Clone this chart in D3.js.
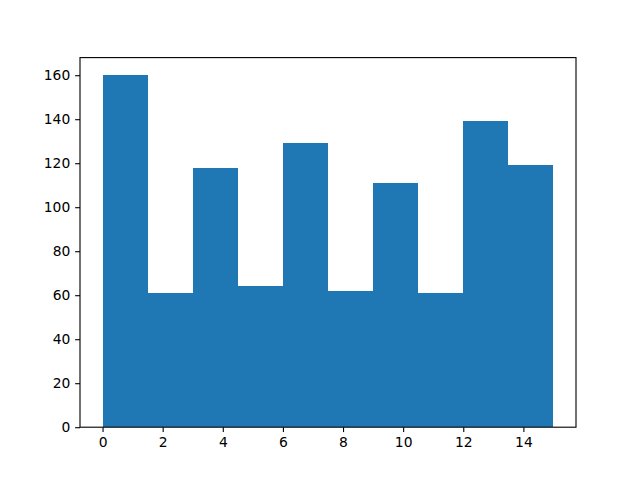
<!DOCTYPE html>
<html><head><meta charset="utf-8">
<script src="https://cdn.jsdelivr.net/npm/d3@7"></script>
<style>body{margin:0;background:#fff}svg{display:block}text{font-family:"DejaVu Sans";font-size:13.89px;fill:#000}</style>
</head><body><svg id="c" width="640" height="480"></svg>
<script>
const binEdges = [0,1.5,3,4.5,6,7.5,9,10.5,12,13.5,15];
const counts = [160,61,118,64,129,62,111,61,139,119];
const xTicks = [0,2,4,6,8,10,12,14];
const yTicks = [0,20,40,60,80,100,120,140,160];

const W=640,H=480;
const L=80,R=576,T=57.6,B=427.2;
const svg=d3.select("#c");
const x=d3.scaleLinear().domain([-0.75,15.75]).range([L,R]);
const y=d3.scaleLinear().domain([0,168]).range([B,T]);

svg.append("g").selectAll("rect").data(counts).join("rect")
  .attr("x",(d,i)=>x(binEdges[i]))
  .attr("width",(d,i)=>x(binEdges[i+1])-x(binEdges[i]))
  .attr("y",d=>y(d))
  .attr("height",d=>B-y(d))
  .attr("fill","#1f77b4")
  .attr("shape-rendering","crispEdges");

const xa=d3.axisBottom(x).tickValues(xTicks).tickFormat(d3.format("d")).tickSizeOuter(0).tickSize(4.86).tickPadding(4.86);
const ya=d3.axisLeft(y).tickValues(yTicks).tickFormat(d3.format("d")).tickSizeOuter(0).tickSize(4.86).tickPadding(4.86);
const gx=svg.append("g").attr("transform",`translate(0,${B})`).call(xa);
const gy=svg.append("g").attr("transform",`translate(${L},0)`).call(ya);
[gx,gy].forEach(g=>{
  g.select(".domain").remove();
  g.selectAll("line").attr("stroke","#000").attr("stroke-width",1.11);
  g.selectAll("text").attr("font-family","DejaVu Sans").attr("font-size","13.89px").attr("fill","#000");
});
svg.append("rect").attr("x",L).attr("y",T).attr("width",R-L).attr("height",B-T)
  .attr("fill","none").attr("stroke","#000").attr("stroke-width",1.11);
</script></body></html>
